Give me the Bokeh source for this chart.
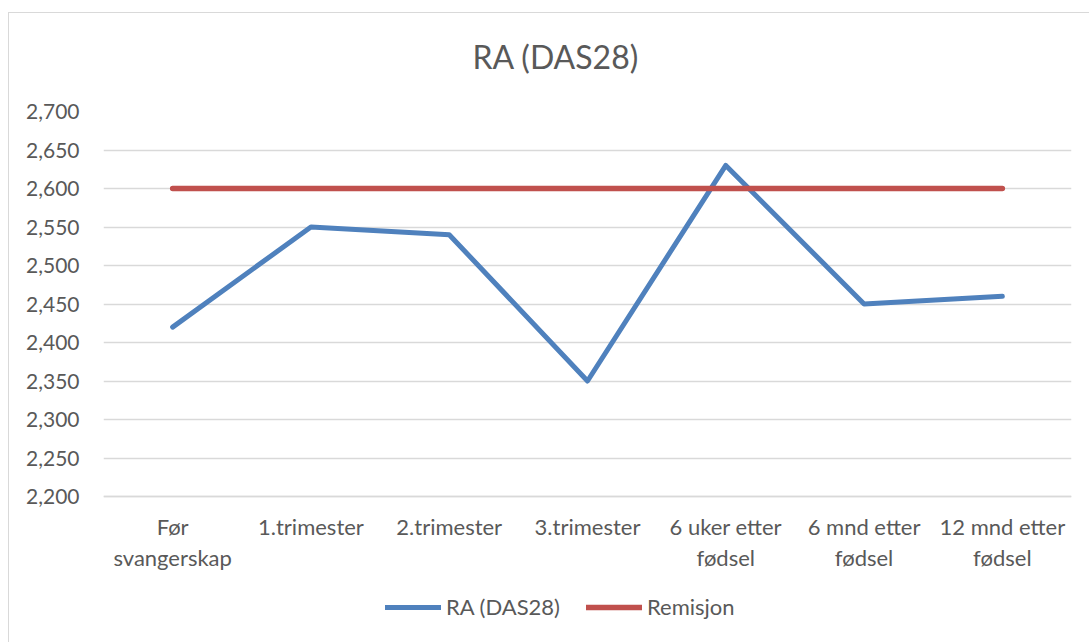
from bokeh.plotting import figure
from bokeh.models import (FixedTicker, Legend, LegendItem, Title, Range1d, FactorRange,
                          InlineStyleSheet)
from bokeh.embed import file_html
from bokeh.resources import INLINE

categories = ["Før\nsvangerskap", "1.trimester", "2.trimester", "3.trimester",
              "6 uker etter\nfødsel", "6 mnd etter\nfødsel", "12 mnd etter\nfødsel"]
ra_das28 = [2.42, 2.55, 2.54, 2.35, 2.63, 2.45, 2.46]
remisjon = [2.60, 2.60, 2.60, 2.60, 2.60, 2.60, 2.60]
y_ticks = [2.20, 2.25, 2.30, 2.35, 2.40, 2.45, 2.50, 2.55, 2.60, 2.65, 2.70]
y_tick_labels = ["2,200", "2,250", "2,300", "2,350", "2,400", "2,450",
                 "2,500", "2,550", "2,600", "2,650", "2,700"]
title_text = "RA (DAS28)"
series_names = ["RA (DAS28)", "Remisjon"]

FONT = "Lato"
TXT = "#595959"
GRID = "#D9D9D9"
BLUE = "#4F81BD"
RED = "#C0504D"

# layout (pixels): plot top/bottom of value axis, and bottom of frame
Y_MIN, Y_MAX = 2.2, 2.7
TOP_PX, AXIS_PX, FRAME_BOTTOM_PX = 111, 496, 632
y_start = Y_MIN - (FRAME_BOTTOM_PX - AXIS_PX) / (AXIS_PX - TOP_PX) * (Y_MAX - Y_MIN)

border_css = InlineStyleSheet(css="""
:host::after {
  content: "";
  position: absolute;
  left: 8px; top: 12px; right: 0px; bottom: 0px;
  border-left: 1.5px solid #D9D9D9;
  border-top: 1.5px solid #D9D9D9;
  pointer-events: none;
}
""")

p = figure(width=1089, height=642, x_range=FactorRange(*categories),
           y_range=Range1d(y_start, Y_MAX), output_backend="svg", toolbar_location=None,
           min_border_left=103, min_border_top=TOP_PX, min_border_right=18,
           min_border_bottom=642 - FRAME_BOTTOM_PX, stylesheets=[border_css])
p.outline_line_color = None
p.background_fill_color = "white"
p.border_fill_color = "white"

p.xgrid.grid_line_color = None
p.ygrid.grid_line_color = GRID
p.ygrid.grid_line_width = 1.5
p.yaxis.ticker = FixedTicker(ticks=y_ticks)
p.yaxis.major_label_overrides = {t: l for t, l in zip(y_ticks, y_tick_labels)}
p.yaxis.axis_line_color = None
p.yaxis.major_tick_line_color = None
p.yaxis.minor_tick_line_color = None
p.yaxis.major_label_standoff = 18
p.yaxis.major_label_text_font_size = "21px"
p.xaxis.major_label_text_font_size = "22px"
for ax in (p.xaxis, p.yaxis):
    ax.major_label_text_font = FONT
    ax.major_label_text_color = TXT
p.xaxis.fixed_location = Y_MIN
p.xaxis.axis_line_color = GRID
p.xaxis.axis_line_width = 1.5
p.xaxis.major_tick_line_color = None
p.xaxis.minor_tick_line_color = None
p.xaxis.major_label_standoff = 10
p.xaxis.major_label_text_line_height = 1.15

r1 = p.line(categories, ra_das28, line_color=BLUE, line_width=5, line_join="round", line_cap="round")
r2 = p.line(categories, remisjon, line_color=RED, line_width=5.5, line_cap="round")

legend = Legend(items=[LegendItem(label=series_names[0], renderers=[r1]),
                       LegendItem(label=series_names[1], renderers=[r2])],
                orientation="horizontal", location=(282, 12),
                glyph_width=56, glyph_height=20, label_height=20,
                label_standoff=5, spacing=26, padding=0, margin=0, border_line_color=None,
                background_fill_alpha=0, label_text_font=FONT,
                label_text_font_size="22px", label_text_color=TXT)
p.add_layout(legend, "center")

p.add_layout(Title(text=title_text, align="left", offset=369, text_font=FONT,
                   text_font_size="32px", text_color=TXT, text_font_style="normal",
                   vertical_align="top", standoff=68), "above")

open("out.html", "w").write(file_html(p, INLINE))
